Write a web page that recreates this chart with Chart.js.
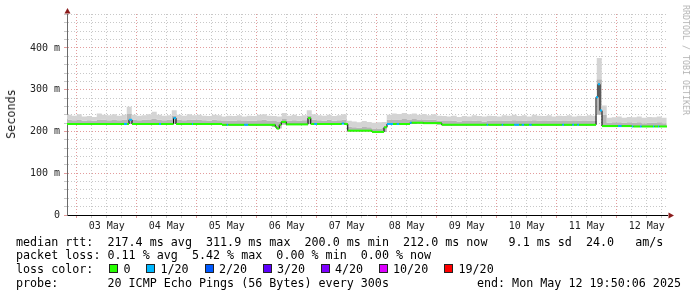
<!DOCTYPE html>
<html>
<head>
<meta charset="utf-8">
<script src="https://cdn.jsdelivr.net/npm/chart.js@4.4.1/dist/chart.umd.min.js"></script>
<style>
  html, body { margin: 0; padding: 0; background: #fff; }
  #wrap { position: relative; width: 697px; height: 297px; overflow: hidden; font-family: "DejaVu Sans Mono", monospace; }
  canvas { position: absolute; left: 0; top: 0; }
  .t { position: absolute; white-space: pre; font-size: 11.7px; line-height: 14px; color: #000; }
  .box { position: absolute; width: 7px; height: 7px; border: 1px solid #222; }
  #ylab { position: absolute; left: 10.8px; top: 114px; font-size: 11.8px; line-height: 14px; color: #222; white-space: pre; transform: translate(-50%, -50%) rotate(-90deg); }
  #sig { position: absolute; left: 686px; top: 60px; font-size: 8.3px; line-height: 10px; color: #b4b4b4; white-space: pre; transform: translate(-50%, -50%) rotate(90deg); }
</style>
</head>
<body>
<div id="wrap">
  <canvas id="chart" width="697" height="297"></canvas>
  <div id="ylab">Seconds</div>
  <div id="sig">RRDTOOL / TOBI OETIKER</div>
  <div class="t" style="left:16px;top:235px">median rtt:  217.4 ms avg  311.9 ms max  200.0 ms min  212.0 ms now   9.1 ms sd  24.0   am/s</div>
  <div class="t" style="left:16px;top:248px">packet loss: 0.11 % avg  5.42 % max  0.00 % min  0.00 % now</div>
  <div class="t" id="lossRow" style="left:16px;top:262px">loss color:</div>
  <div class="t" style="left:16px;top:276px">probe:       20 ICMP Echo Pings (56 Bytes) every 300s</div>
  <div class="t" style="right:16px;top:276px">end: Mon May 12 19:50:06 2025</div>
</div>
<script>
// x axis is in hours from 03 May 00:00, y axis in milliseconds

// loss colour legend
const lossColors = ['#26ff00', '#00b8ff', '#0059ff', '#5e00ff', '#7e00ff', '#dd00ff', '#ff0000'];
const lossLabels = ['0', '1/20', '2/20', '3/20', '4/20', '10/20', '19/20'];

// tick labels
const dayLabels = ['03 May', '04 May', '05 May', '06 May', '07 May', '08 May', '09 May', '10 May', '11 May', '12 May'];
const yTickValues = [0, 100, 200, 300, 400];
const yTickLabels = ['0', '100 m', '200 m', '300 m', '400 m'];

// median rtt steps: start hour, value (ms), loss index
const medianHours = [
  -3.9, 18.9, 20.1, 20.9, 22.1, 32.9, 33.7, 38.7, 39.7, 46.1, 46.5,
  58.1, 60.0, 60.6, 67.0, 68.6, 79.4, 80.0, 81.0, 81.8, 83.8, 92.5, 93.6,
  95.0, 96.1, 106.0, 107.0, 108.4, 118.1, 122.9, 124.1, 126.5, 128.0, 129.0,
  133.3, 134.0, 138.6, 146.0, 164.0, 164.6, 170.0, 170.6, 175.0, 177.0,
  178.0, 179.0, 181.0, 182.0, 194.2, 194.9, 198.2, 198.9, 200.2, 200.9,
  207.7, 208.5, 209.3, 210.1, 216.5, 218.0, 222.0, 222.6, 225.3, 226.0,
  230.5, 231.0, 232.5, 233.0
];
const medianValues = [
  218, 218, 218, 228, 218, 218, 218, 232, 218, 218, 218,
  216, 216, 216, 216, 216, 211, 207, 216, 223, 217, 232, 218,
  218, 218, 219, 218, 202, 199, 210, 218, 218, 218, 218,
  221, 221, 220, 216, 216, 216, 216, 216, 216, 216,
  216, 216, 216, 216, 216, 216, 216, 216, 216, 216,
  282, 313, 250, 213, 213, 213, 212, 212, 212, 212,
  212, 212, 212, 212
];
const medianLoss = [
  0, 1, 0, 1, 0, 1, 0, 1, 0, 1, 0,
  0, 1, 0, 1, 0, 0, 0, 0, 0, 0, 0, 0,
  1, 0, 1, 0, 0, 0, 0, 1, 0, 1, 0,
  1, 0, 0, 0, 1, 0, 1, 0, 1, 0,
  1, 0, 1, 0, 1, 0, 1, 0, 1, 0,
  1, 1, 1, 0, 1, 0, 1, 0, 1, 0,
  1, 0, 1, 0
];

// smoke (ping spread), one value per 2 hours starting at -4h
const smokeLow = [
  218, 218,
  218, 218, 218, 218, 218, 218, 218, 218, 218, 218, 218, 218,
  218, 218, 218, 218, 218, 218, 218, 218, 218, 218, 218, 218,
  218, 218, 218, 218, 218, 216, 216, 216, 216, 216, 216, 216,
  216, 216, 216, 211, 207, 216, 217, 217, 217, 217, 218, 218,
  218, 218, 218, 218, 218, 218, 202, 202, 202, 202, 202, 199,
  199, 199, 217, 218, 218, 218, 218, 218, 220, 220, 220, 220,
  216, 216, 216, 216, 216, 216, 216, 216, 216, 216, 216, 216,
  216, 216, 216, 216, 216, 216, 216, 216, 216, 216, 216, 216,
  216, 216, 216, 216, 216, 216, 216, 216, 240, 213, 213, 213,
  213, 213, 213, 213, 212, 212, 212, 212, 212, 212, 212
];
const smokeMid = [
  228, 227,
  229, 226, 227, 226, 229, 228, 227, 229, 227, 228, 242, 228,
  227, 228, 229, 231, 228, 227, 228, 238, 228, 227, 229, 228,
  228, 227, 226, 228, 227, 225, 226, 226, 227, 225, 226, 226,
  227, 228, 226, 225, 224, 230, 226, 227, 226, 227, 238, 228,
  227, 226, 228, 226, 227, 228, 212, 210, 209, 211, 210, 207,
  207, 209, 228, 229, 229, 230, 229, 230, 229, 229, 228, 228,
  226, 225, 225, 226, 224, 225, 225, 226, 225, 224, 226, 225,
  225, 226, 226, 227, 225, 226, 225, 227, 226, 225, 226, 225,
  226, 225, 226, 225, 226, 225, 226, 226, 325, 240, 221, 222,
  222, 221, 222, 221, 222, 220, 221, 221, 222, 220, 220
];
const smokeTop = [
  240, 238,
  241, 236, 237, 235, 243, 240, 239, 241, 238, 240, 259, 240,
  238, 239, 241, 247, 240, 238, 239, 251, 240, 238, 241, 239,
  240, 238, 237, 240, 239, 236, 238, 237, 239, 236, 238, 237,
  240, 241, 238, 237, 236, 244, 238, 240, 237, 239, 251, 241,
  239, 238, 240, 237, 239, 241, 226, 224, 222, 225, 223, 221,
  222, 223, 240, 243, 242, 244, 241, 243, 240, 242, 239, 241,
  238, 237, 236, 238, 235, 237, 236, 239, 237, 236, 238, 237,
  236, 239, 238, 240, 237, 239, 236, 240, 238, 237, 239, 236,
  238, 237, 239, 236, 238, 237, 239, 238, 376, 262, 233, 234,
  236, 233, 235, 234, 236, 233, 235, 234, 236, 233, 233
];

const X_MIN = -3.9, X_MAX = 236.1;
const SMOKE_START = -4, SMOKE_STEP = 2;
const FONT = "'DejaVu Sans Mono'";
const RED_GRID = '#e39c9c';
const GREY_GRID = '#c8c8c8';

function smokeSeries(values) {
  return values.map((v, i) => ({ x: SMOKE_START + i * SMOKE_STEP, y: v }));
}

// coloured median: one horizontal piece per step, broken by nulls
const medianPieces = [];
const medianPieceLoss = [];
medianHours.forEach((h, i) => {
  const end = i + 1 < medianHours.length ? medianHours[i + 1] : X_MAX;
  medianPieces.push({ x: h, y: medianValues[i] }, { x: end, y: medianValues[i] }, { x: end, y: null });
  medianPieceLoss.push(medianLoss[i], medianLoss[i], medianLoss[i]);
});
const medianStep = medianHours.map((h, i) => ({ x: h, y: medianValues[i] }));
medianStep.push({ x: X_MAX, y: medianValues[medianValues.length - 1] });

// legend boxes
const legendBoxX = [109, 146, 204.5, 262.5, 320.5, 378.5, 444];
const wrap = document.getElementById('wrap');
lossColors.forEach((c, i) => {
  const b = document.createElement('div');
  b.className = 'box';
  b.style.left = legendBoxX[i] + 'px';
  b.style.top = '264px';
  b.style.background = c;
  wrap.appendChild(b);
  const t = document.createElement('div');
  t.className = 't';
  t.style.left = (legendBoxX[i] + 14.5) + 'px';
  t.style.top = '262px';
  t.textContent = lossLabels[i];
  wrap.appendChild(t);
});

// axis arrows
const arrowPlugin = {
  id: 'arrows',
  afterDraw(chart) {
    const { ctx, chartArea: a } = chart;
    ctx.save();
    ctx.fillStyle = '#8b1c1c';
    ctx.beginPath();
    ctx.moveTo(a.left - 2.5, a.top - 0.5);
    ctx.lineTo(a.left + 3.5, a.top - 0.5);
    ctx.lineTo(a.left + 0.5, a.top - 6);
    ctx.closePath();
    ctx.fill();
    ctx.beginPath();
    ctx.moveTo(a.right + 1.5, a.bottom - 2.5);
    ctx.lineTo(a.right + 1.5, a.bottom + 3.5);
    ctx.lineTo(a.right + 7, a.bottom + 0.5);
    ctx.closePath();
    ctx.fill();
    ctx.restore();
  }
};

new Chart(document.getElementById('chart'), {
  type: 'line',
  data: {
    datasets: [
      {
        label: 'median',
        data: medianPieces,
        borderWidth: 2,
        borderCapStyle: 'butt',
        spanGaps: false,
        fill: false,
        segment: { borderColor: c => lossColors[medianPieceLoss[c.p0DataIndex]] }
      },
      {
        label: 'median step',
        data: medianStep,
        stepped: 'before',
        borderWidth: 1,
        borderColor: '#000',
        fill: false
      },
      {
        label: 'smoke top',
        data: smokeSeries(smokeTop),
        stepped: 'before',
        borderWidth: 0,
        borderColor: 'transparent',
        backgroundColor: '#d4d4d4',
        fill: 3
      },
      {
        label: 'smoke mid',
        data: smokeSeries(smokeMid),
        stepped: 'before',
        borderWidth: 0,
        borderColor: 'transparent',
        backgroundColor: '#b6b6b6',
        fill: 4
      },
      {
        label: 'smoke low',
        data: smokeSeries(smokeLow),
        stepped: 'before',
        borderWidth: 0,
        borderColor: 'transparent',
        fill: false
      }
    ]
  },
  options: {
    responsive: false,
    animation: false,
    devicePixelRatio: 1,
    layout: { padding: { left: 0, top: 14, right: 30, bottom: 0 } },
    elements: { point: { radius: 0, hoverRadius: 0 }, line: { tension: 0 } },
    plugins: { legend: { display: false }, tooltip: { enabled: false } },
    scales: {
      x: {
        type: 'linear',
        min: X_MIN,
        max: X_MAX,
        afterBuildTicks: s => {
          const t = [];
          for (let h = 0; h < X_MAX; h += 6) t.push({ value: h });
          s.ticks = t;
        },
        afterFit: s => { s.height = 82; },
        ticks: {
          autoSkip: false,
          maxRotation: 0,
          minRotation: 0,
          padding: 2,
          color: '#222',
          font: { family: FONT, size: 10 },
          callback: v => (v % 24 === 12 ? dayLabels[(v - 12) / 24] : '')
        },
        grid: {
          color: c => (c.tick && c.tick.value % 24 === 0 ? RED_GRID : GREY_GRID),
          tickLength: 3,
          lineWidth: 1
        },
        border: { color: '#000', width: 1, dash: [1, 2] }
      },
      y: {
        type: 'linear',
        min: 0,
        max: 481.4,
        afterBuildTicks: s => {
          const t = [];
          for (let v = 0; v <= 480; v += 20) t.push({ value: v });
          s.ticks = t;
        },
        afterFit: s => { s.width = 67; },
        ticks: {
          autoSkip: false,
          padding: 4,
          color: '#222',
          font: { family: FONT, size: 10 },
          callback: v => {
            const i = yTickValues.indexOf(v);
            return i >= 0 ? yTickLabels[i] : '';
          }
        },
        grid: {
          color: c => (c.tick && c.tick.value % 100 === 0 ? RED_GRID : GREY_GRID),
          tickLength: 3,
          lineWidth: 1
        },
        border: { color: '#6a6a6a', width: 1, dash: [1, 2] }
      }
    }
  },
  plugins: [arrowPlugin]
});
</script>
</body>
</html>
